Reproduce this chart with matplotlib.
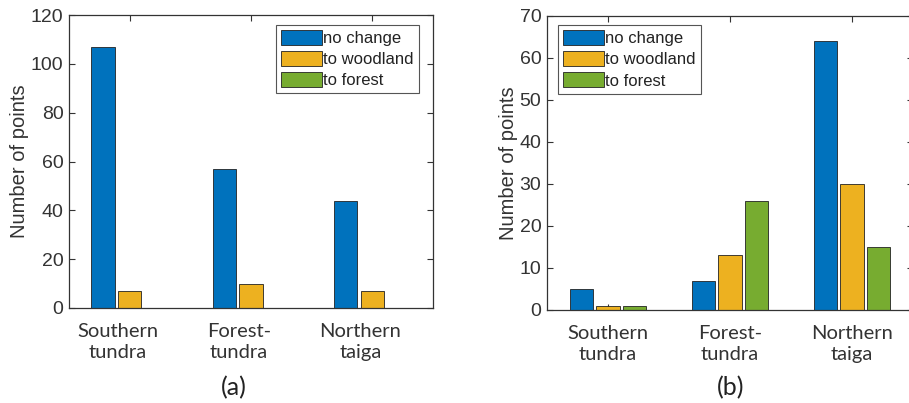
import numpy as np
import matplotlib
matplotlib.use("Agg")
import matplotlib.pyplot as plt
import matplotlib.transforms as mtransforms

categories = ["Southern\ntundra", "Forest-\ntundra", "Northern\ntaiga"]
series_names = ["no change", "to woodland", "to forest"]
colors = ["#0072BD", "#EDB120", "#77AC30"]

a_no_change = [107, 57, 44]
a_woodland = [7, 10, 7]
a_forest = [0, 0, 0]

b_no_change = [5, 7, 64]
b_woodland = [1, 13, 30]
b_forest = [1, 26, 15]

a_yticks = [0, 20, 40, 60, 80, 100, 120]
b_yticks = [0, 10, 20, 30, 40, 50, 60, 70]

W, H = 909, 403
fig = plt.figure(figsize=(W / 100, H / 100), dpi=100)

axcol = "#333333"
tickfont = "Liberation Sans"
catfont = "Lato"

def px(x0, y0, x1, y1):
    return [x0 / W, 1 - y1 / H, (x1 - x0) / W, (y1 - y0) / H]

def draw(ax, data, yticks, ylim, legend_loc, anchor, ylab_x, cat_shift):
    x = np.arange(1, len(categories) + 1)
    width = 0.19
    offs = [-0.22, 0.0, 0.22]
    for vals, off, c, name in zip(data, offs, colors, series_names):
        ax.bar(x + off, vals, width, color=c, edgecolor="#222222",
               linewidth=0.6, label=name, zorder=2)
    ax.set_xlim(0.5, 3.5)
    ax.set_ylim(*ylim)
    ax.set_yticks(yticks)
    ax.set_xticks(x)
    ax.set_xticklabels([])
    trans = mtransforms.blended_transform_factory(ax.transData, ax.transAxes)
    trans = trans + mtransforms.ScaledTranslation(cat_shift / 100, -15 / 100,
                                                  fig.dpi_scale_trans)
    for xi, cat in zip(x, categories):
        ax.text(xi, 0, cat, transform=trans, ha="center", va="top",
                fontfamily=catfont, fontsize=14.5, color="#333333",
                linespacing=1.3)
    for lbl in ax.get_yticklabels():
        lbl.set_fontfamily(tickfont)
        lbl.set_fontsize(14)
        lbl.set_color("#333333")
    ax.tick_params(axis="both", direction="in", length=4, width=0.8,
                   color=axcol, top=True, right=True)
    ax.tick_params(axis="y", pad=4)
    for s in ax.spines.values():
        s.set_color(axcol)
        s.set_linewidth(0.9)
    ax.set_ylabel("Number of points", fontfamily=tickfont, fontsize=14.5,
                  color="#333333")
    ax.yaxis.set_label_coords(ylab_x, 0.5)
    leg = ax.legend(loc=legend_loc, bbox_to_anchor=anchor, borderaxespad=0,
                    prop={"family": tickfont, "size": 12},
                    handlelength=2.45, handleheight=1.0, handletextpad=0.1,
                    labelspacing=0.3, borderpad=0.3, fancybox=False,
                    framealpha=1, edgecolor="#555555")
    leg.get_frame().set_linewidth(0.8)
    for t in leg.get_texts():
        t.set_color("#222222")

ax1 = fig.add_axes(px(69, 15, 433, 308))
draw(ax1, [a_no_change, a_woodland, a_forest], a_yticks, (0, 120),
     "upper right", (0.9615, 0.966), -0.11, -12)

ax2 = fig.add_axes(px(547, 16, 913, 310))
draw(ax2, [b_no_change, b_woodland, b_forest], b_yticks, (0, 70),
     "upper left", (0.030, 0.969), -0.079, 0)

fig.text(234 / W, 1 - 388 / H, "(a)", ha="center", va="center",
         fontfamily=catfont, fontsize=18, color="#222222")
fig.text(731 / W, 1 - 388 / H, "(b)", ha="center", va="center",
         fontfamily=catfont, fontsize=18, color="#222222")

fig.savefig("out.png", dpi=100, facecolor="white")
